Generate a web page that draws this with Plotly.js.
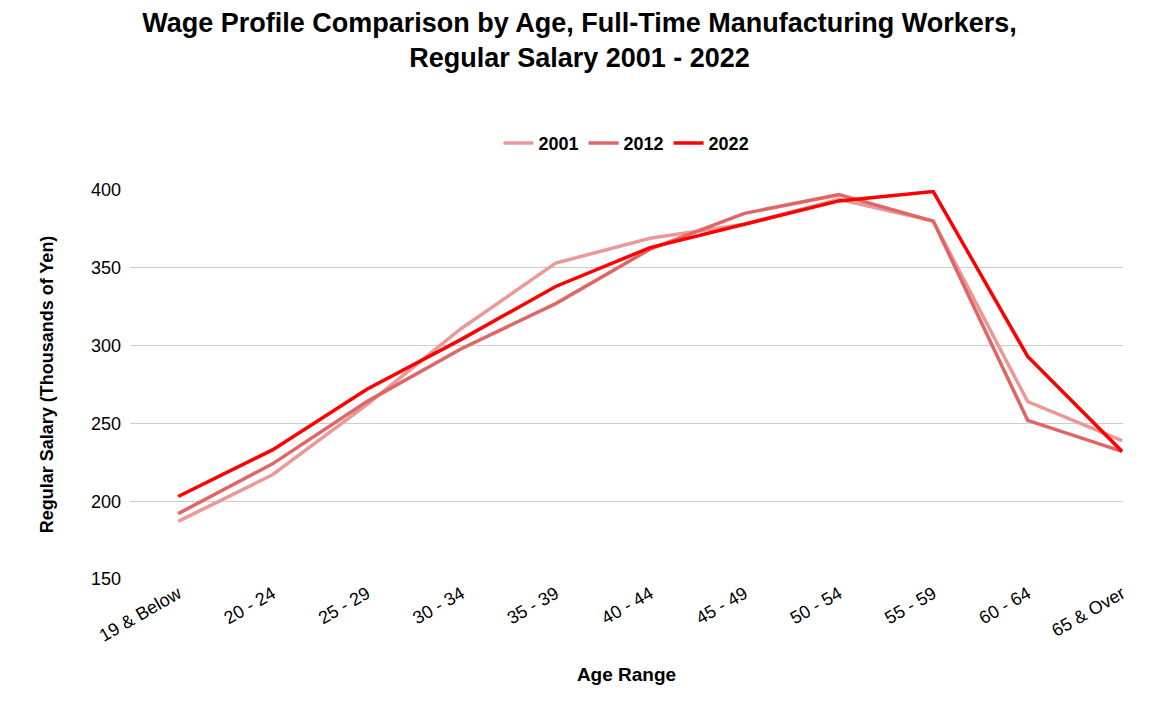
<!DOCTYPE html>
<html><head><script src="https://cdn.plot.ly/plotly-3.0.1.min.js"></script></head>
<body style="margin:0"><div id="c" style="width:1159px;height:716px"></div>
<script>
const categories=["19 & Below","20 - 24","25 - 29","30 - 34","35 - 39","40 - 44","45 - 49","50 - 54","55 - 59","60 - 64","65 & Over"];
const s2001=[187,217,262,311,353,369,378,394,380,264,239];
const s2012=[192,224,264,298,327,362,385,397,380,252,232];
const s2022=[203,233,272,304,338,363,378,393,399,293,232];
const mk=(n,y,c)=>({type:'scatter',mode:'lines',name:n,x:categories,y:y,line:{color:c,width:3.5}});
Plotly.newPlot('c',[mk('2001',s2001,'#ea9999'),mk('2012',s2012,'#e06666'),mk('2022',s2022,'#ff0000')],{
 width:1159,height:716,font:{family:'Liberation Sans, Arial',size:18,color:'#000'},
 title:{text:'<b>Wage Profile Comparison by Age, Full-Time Manufacturing Workers,<br>Regular Salary 2001 - 2022</b>',font:{size:27},x:0.5,y:0.955,yanchor:'top'},
 legend:{orientation:'h',x:0.5,xanchor:'center',y:1.12,yanchor:'middle',font:{size:18,weight:'bold'}},
 margin:{l:130,r:36,t:190,b:137},
 xaxis:{title:{text:'<b>Age Range</b>',font:{size:19},standoff:22},tickangle:-30,showgrid:false,showline:false,range:[-0.51,10.01]},
 yaxis:{title:{text:'<b>Regular Salary (Thousands of Yen)</b>',font:{size:18},standoff:32},range:[150,400],dtick:50,gridcolor:'#ccc',zeroline:false,ticklabelstandoff:8},
 plot_bgcolor:'#fff',paper_bgcolor:'#fff'
},{displayModeBar:false});
</script></body></html>
